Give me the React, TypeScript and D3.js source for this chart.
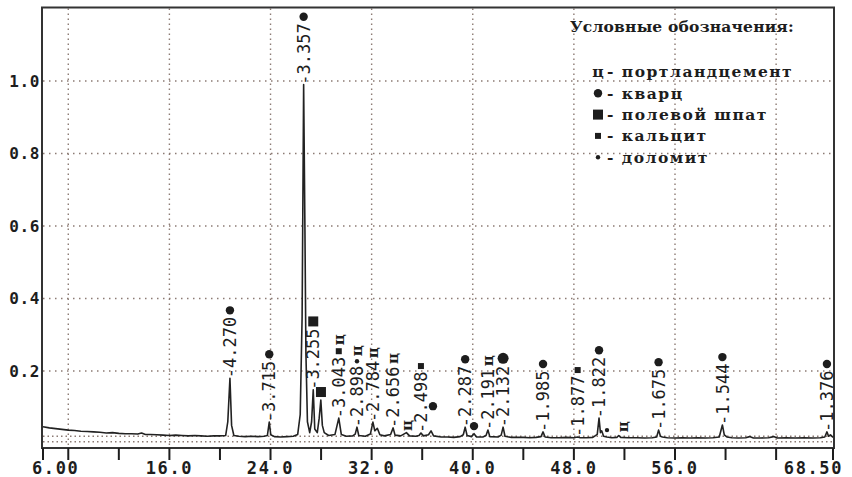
import { useEffect, useRef } from 'react';
import * as d3 from 'd3';

const W = 852;
const H = 477;
const PLOT = { left: 43, right: 833, top: 8.5, bottom: 443.5 };
const AXIS_Y = 448;

// diffractogram trace, [2theta, intensity]
const trace: [number, number][] = [
  [6.0, 0.046], [6.5, 0.043], [7.0, 0.041], [7.5, 0.039], [8.0, 0.037], [8.5, 0.036],
  [9.0, 0.034], [9.5, 0.033], [10.0, 0.032], [10.5, 0.031], [11.0, 0.029], [11.5, 0.03],
  [12.0, 0.028], [12.5, 0.027], [13.0, 0.027], [13.5, 0.026], [13.8, 0.029], [14.1, 0.025],
  [14.5, 0.025], [15.0, 0.024], [15.5, 0.023], [16.0, 0.022], [16.5, 0.023], [17.0, 0.022],
  [17.5, 0.021], [18.0, 0.022], [18.5, 0.021], [19.0, 0.02], [19.5, 0.021], [20.0, 0.021],
  [20.45, 0.022], [20.62, 0.06], [20.79, 0.18], [20.92, 0.05], [21.1, 0.022], [21.5, 0.02],
  [22.0, 0.019], [22.5, 0.02], [23.0, 0.019], [23.5, 0.02], [23.75, 0.022], [23.9, 0.059],
  [24.02, 0.024], [24.3, 0.019], [24.8, 0.018], [25.3, 0.019], [25.8, 0.02], [26.15, 0.025],
  [26.35, 0.08], [26.5, 0.35], [26.62, 0.99], [26.72, 0.6], [26.8, 0.25], [26.92, 0.06],
  [27.1, 0.03], [27.25, 0.06], [27.38, 0.148], [27.5, 0.04], [27.7, 0.03], [27.85, 0.07],
  [27.98, 0.12], [28.1, 0.05], [28.25, 0.03], [28.6, 0.022], [29.1, 0.025], [29.4, 0.07],
  [29.6, 0.025], [30.0, 0.02], [30.5, 0.021], [30.7, 0.026], [30.84, 0.045], [30.98, 0.022],
  [31.5, 0.02], [31.9, 0.026], [32.1, 0.059], [32.25, 0.035], [32.45, 0.042], [32.65, 0.024],
  [33.0, 0.021], [33.5, 0.025], [33.7, 0.043], [33.85, 0.023], [34.3, 0.021], [34.75, 0.03],
  [35.0, 0.021], [35.5, 0.02], [35.75, 0.022], [35.9, 0.029], [36.1, 0.021], [36.5, 0.024],
  [36.7, 0.035], [36.9, 0.021], [37.5, 0.018], [38.0, 0.018], [38.5, 0.017], [39.0, 0.019],
  [39.25, 0.024], [39.4, 0.045], [39.55, 0.022], [39.9, 0.019], [40.1, 0.027], [40.3, 0.018],
  [40.8, 0.018], [41.05, 0.022], [41.2, 0.037], [41.35, 0.019], [42.0, 0.018], [42.25, 0.023],
  [42.4, 0.045], [42.55, 0.02], [43.0, 0.017], [43.5, 0.017], [44.0, 0.017], [44.5, 0.016],
  [45.0, 0.017], [45.4, 0.019], [45.56, 0.032], [45.72, 0.018], [46.2, 0.016], [46.8, 0.016],
  [47.4, 0.017], [48.0, 0.016], [48.3, 0.018], [48.5, 0.016], [49.0, 0.016], [49.5, 0.017],
  [49.85, 0.025], [49.99, 0.07], [50.1, 0.03], [50.2, 0.035], [50.35, 0.02], [50.6, 0.018],
  [51.0, 0.016], [51.4, 0.017], [51.55, 0.022], [51.7, 0.017], [52.3, 0.016], [53.0, 0.016],
  [53.6, 0.015], [54.2, 0.016], [54.55, 0.018], [54.7, 0.037], [54.85, 0.02], [55.0, 0.018],
  [55.4, 0.016], [56.0, 0.015], [56.6, 0.016], [57.2, 0.015], [57.8, 0.016], [58.4, 0.015],
  [59.0, 0.016], [59.5, 0.018], [59.75, 0.051], [59.9, 0.024], [60.1, 0.018], [60.5, 0.016],
  [61.0, 0.015], [61.6, 0.016], [61.9, 0.019], [62.2, 0.015], [62.8, 0.015], [63.4, 0.016],
  [63.8, 0.019], [64.1, 0.015], [64.8, 0.016], [65.5, 0.015], [66.2, 0.016], [66.9, 0.015],
  [67.5, 0.016], [67.85, 0.018], [68.02, 0.032], [68.15, 0.02], [68.3, 0.024], [68.5, 0.017],
];

// labelled peaks: d-spacing label, 2theta, peak top, phase marks stacked above
const peakLabels = ['4.270', '3.715', '3.357', '3.255', '3.043', '2.898', '2.784', '2.656', '2.498',
  '2.287', '2.191', '2.132', '1.985', '1.877', '1.822', '1.675', '1.544', '1.376'];
const peakPos = [20.79, 23.9, 26.62, 27.38, 29.4, 30.84, 32.1, 33.7, 35.9,
  39.4, 41.2, 42.4, 45.56, 48.3, 49.99, 54.7, 59.75, 68.02];
const peakTop = [0.18, 0.059, 0.99, 0.148, 0.07, 0.045, 0.059, 0.043, 0.029,
  0.045, 0.037, 0.045, 0.032, 0.018, 0.07, 0.037, 0.051, 0.032];
const peakMarks = ['●', '●', '●', '■', '▪ц', '•ц', 'ц', 'ц', '▪',
  '●', 'ц', '⬤', '●', '▪', '●', '●', '●', '●'];

// loose marks next to small peaks: [2theta, level, mark]
const looseMarks: [number, number, string][] = [
  [27.99, 0.142, '■'], [34.8, 0.05, 'ц'], [36.85, 0.103, '●'],
  [40.1, 0.048, '●'], [50.62, 0.037, '•'], [51.89, 0.046, 'ц'],
];

const yTicks = [0.2, 0.4, 0.6, 0.8, 1.0];
const xGrid = [8, 16, 24, 32, 40, 48, 56, 64];
const xMinorTicks = [6, 8, 12, 16, 20, 24, 28, 32, 36, 40, 44, 48, 52, 56, 60, 64, 68.5];
const xTickLabels = [6, 16, 24, 32, 40, 48, 56, 68.5];
const xTickText = ['6.00', '16.0', '24.0', '32.0', '40.0', '48.0', '56.0', '68.50'];
const baseLines = [0.02, 0.005];

const legendTitle = 'Условные обозначения:';
const legendMarks = ['ц', '●', '■', '▪', '•'];
const legendNames = ['портландцемент', 'кварц', 'полевой шпат', 'кальцит', 'доломит'];

const INK = '#1d1d1d';
const GRID = '#8c7b74';
const MONO = '"DejaVu Sans Mono", monospace';
const SERIF = '"DejaVu Serif", serif';

function drawMark(g: d3.Selection<SVGGElement, unknown, null, undefined>, mark: string, x: number, y: number) {
  if (mark === '●') {
    g.append('circle').attr('cx', x).attr('cy', y).attr('r', 4.2).attr('fill', INK);
  } else if (mark === '⬤') {
    g.append('circle').attr('cx', x).attr('cy', y).attr('r', 5.5).attr('fill', INK);
  } else if (mark === '■') {
    g.append('rect').attr('x', x - 5).attr('y', y - 5).attr('width', 10).attr('height', 10).attr('fill', INK);
  } else if (mark === '▪') {
    g.append('rect').attr('x', x - 3).attr('y', y - 3).attr('width', 6).attr('height', 6).attr('fill', INK);
  } else if (mark === '•') {
    g.append('circle').attr('cx', x).attr('cy', y).attr('r', 2.2).attr('fill', INK);
  } else {
    g.append('text')
      .attr('transform', `translate(${x},${y}) rotate(-90)`)
      .attr('text-anchor', 'middle')
      .attr('dy', '0.35em')
      .attr('font-family', SERIF)
      .attr('font-weight', 'bold')
      .attr('font-size', 15)
      .attr('fill', INK)
      .text(mark);
  }
}

function markSize(mark: string) {
  if (mark === '●') return 9;
  if (mark === '⬤') return 11;
  if (mark === '■') return 10;
  if (mark === '▪') return 7;
  if (mark === '•') return 5;
  return 12;
}

export default function App() {
  const svgRef = useRef<SVGSVGElement>(null);

  useEffect(() => {
    if (!svgRef.current) return;
    const svg = d3.select(svgRef.current);
    svg.selectAll('*').remove();

    const x = d3.scaleLinear().domain([6, 68.5]).range([PLOT.left, PLOT.right]);
    const y = d3.scaleLinear().domain([0, 1.2]).range([PLOT.bottom, PLOT.top]);

    svg.append('rect').attr('width', W).attr('height', H).attr('fill', '#fff');
    const g = svg.append('g');

    // Dotted grid
    yTicks.forEach((t) => {
      g.append('line')
        .attr('x1', PLOT.left).attr('x2', PLOT.right)
        .attr('y1', y(t)).attr('y2', y(t))
        .attr('stroke', GRID).attr('stroke-width', 1.4)
        .attr('stroke-dasharray', '1.5 4.5');
    });
    baseLines.forEach((t) => {
      g.append('line')
        .attr('x1', PLOT.left).attr('x2', PLOT.right)
        .attr('y1', y(t)).attr('y2', y(t))
        .attr('stroke', GRID).attr('stroke-width', 1.4)
        .attr('stroke-dasharray', '1.5 3');
    });
    xGrid.forEach((t) => {
      g.append('line')
        .attr('x1', x(t)).attr('x2', x(t))
        .attr('y1', PLOT.top).attr('y2', AXIS_Y)
        .attr('stroke', GRID).attr('stroke-width', 1.4)
        .attr('stroke-dasharray', '1.5 3.5');
    });

    // Frame
    g.append('rect')
      .attr('x', PLOT.left - 1).attr('y', PLOT.top - 1)
      .attr('width', PLOT.right - PLOT.left + 2)
      .attr('height', AXIS_Y - PLOT.top + 1)
      .attr('fill', 'none').attr('stroke', '#333').attr('stroke-width', 2);

    // Bottom axis ticks
    xMinorTicks.forEach((t) => {
      g.append('line')
        .attr('x1', x(t)).attr('x2', x(t))
        .attr('y1', AXIS_Y).attr('y2', AXIS_Y + 12)
        .attr('stroke', INK).attr('stroke-width', 2);
    });
    xTickLabels.forEach((t, i) => {
      const first = i === 0;
      const last = i === xTickLabels.length - 1;
      g.append('text')
        .attr('x', first ? x(t) - 11 : last ? x(t) + 10 : x(t))
        .attr('y', 474)
        .attr('text-anchor', first ? 'start' : last ? 'end' : 'middle')
        .attr('font-family', MONO)
        .attr('font-weight', 'bold')
        .attr('font-size', 17)
        .attr('letter-spacing', 1.6)
        .attr('fill', INK)
        .text(xTickText[i]);
    });

    // Y labels
    yTicks.forEach((t) => {
      g.append('text')
        .attr('x', 40)
        .attr('y', y(t))
        .attr('dy', '0.36em')
        .attr('text-anchor', 'end')
        .attr('font-family', MONO)
        .attr('font-weight', 'bold')
        .attr('font-size', 16)
        .attr('letter-spacing', 0.6)
        .attr('fill', INK)
        .text(t.toFixed(1));
    });

    // Trace
    const line = d3.line<[number, number]>().x((d) => x(d[0])).y((d) => y(d[1]));
    g.append('path')
      .datum(trace)
      .attr('d', line)
      .attr('fill', 'none')
      .attr('stroke', '#222')
      .attr('stroke-width', 1.6)
      .attr('stroke-linejoin', 'round');

    // Peak labels
    peakLabels.forEach((lab, i) => {
      const px = x(peakPos[i]);
      const py = y(peakTop[i]);
      const t = g.append('text')
        .attr('transform', `translate(${px},${py}) rotate(-90)`)
        .attr('dy', '0.36em')
        .attr('font-family', MONO)
        .attr('font-size', 17)
        .attr('fill', INK)
        .text(`-${lab}`);
      const len = (t.node() as SVGTextElement).getComputedTextLength();
      let cy = py - len - 1;
      for (const m of Array.from(peakMarks[i])) {
        const s = markSize(m);
        cy -= s / 2 + 1;
        drawMark(g, m, px, cy);
        cy -= s / 2 + 1;
      }
    });

    looseMarks.forEach(([p, v, m]) => drawMark(g, m, x(p), y(v)));

    // Legend
    g.append('text')
      .attr('x', 682).attr('y', 32)
      .attr('text-anchor', 'middle')
      .attr('font-family', SERIF).attr('font-weight', 'bold')
      .attr('font-size', 15.5).attr('letter-spacing', 0.2).attr('fill', INK)
      .text(legendTitle);
    legendNames.forEach((name, i) => {
      const ly = 72 + i * 21.3;
      const m = legendMarks[i];
      if (m === 'ц') {
        g.append('text')
          .attr('x', 598).attr('y', ly).attr('dy', '0.35em')
          .attr('text-anchor', 'middle')
          .attr('font-family', SERIF).attr('font-weight', 'bold')
          .attr('font-size', 15.5).attr('fill', INK)
          .text('ц');
      } else {
        drawMark(g, m, 598, ly);
      }
      g.append('text')
        .attr('x', 607).attr('y', ly).attr('dy', '0.35em')
        .attr('font-family', SERIF).attr('font-weight', 'bold')
        .attr('font-size', 15.5).attr('letter-spacing', 1.5).attr('fill', INK)
        .text(`- ${name}`);
    });
  }, []);

  return (
    <svg
      ref={svgRef}
      width={W}
      height={H}
      style={{ position: 'absolute', left: 0, top: 0, display: 'block' }}
    />
  );
}
